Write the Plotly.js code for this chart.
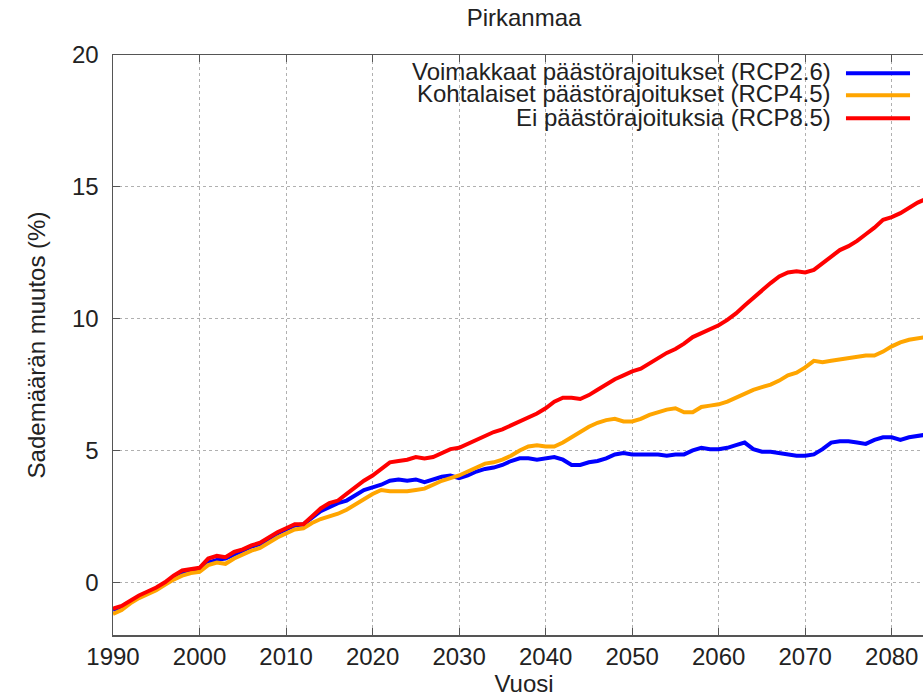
<!DOCTYPE html>
<html>
<head>
<meta charset="utf-8">
<script src="https://cdn.plot.ly/plotly-3.0.1.min.js"></script>
<style>
html,body{margin:0;padding:0;overflow:hidden;background:#fff;}
#chart{width:960px;height:697px;}
</style>
</head>
<body>
<div id="chart"></div>
<script>
const years = [];
for (let y = 1990; y <= 2085; y++) years.push(y);

const seriesNames = [
  "Voimakkaat päästörajoitukset (RCP2.6)",
  "Kohtalaiset päästörajoitukset (RCP4.5)",
  "Ei päästörajoituksia (RCP8.5)"
];
const seriesColors = ["#0000ff", "#ffa500", "#ff0000"];

const rcp26 = [
  -1.05,-0.95,-0.75,-0.55,-0.4,-0.25,-0.05,0.15,0.35,0.45,
  0.5,0.75,0.85,0.9,1.05,1.2,1.35,1.45,1.65,1.85,
  2.0,2.15,2.2,2.45,2.7,2.85,3.0,3.1,3.3,3.5,
  3.6,3.7,3.85,3.9,3.85,3.9,3.8,3.9,4.0,4.05,
  3.95,4.05,4.2,4.3,4.35,4.45,4.6,4.7,4.7,4.65,
  4.7,4.75,4.65,4.45,4.45,4.55,4.6,4.7,4.85,4.9,
  4.85,4.85,4.85,4.85,4.8,4.85,4.85,5.0,5.1,5.05,
  5.05,5.1,5.2,5.3,5.05,4.95,4.95,4.9,4.85,4.8,
  4.8,4.85,5.05,5.3,5.35,5.35,5.3,5.25,5.4,5.5,
  5.5,5.4,5.5,5.55,5.6,5.65
];
const rcp45 = [
  -1.2,-1.05,-0.8,-0.6,-0.45,-0.3,-0.1,0.1,0.25,0.35,
  0.4,0.65,0.75,0.7,0.9,1.05,1.2,1.3,1.5,1.7,
  1.85,2.0,2.05,2.25,2.4,2.5,2.6,2.75,2.95,3.15,
  3.35,3.5,3.45,3.45,3.45,3.5,3.55,3.7,3.85,3.95,
  4.05,4.2,4.35,4.5,4.55,4.65,4.8,5.0,5.15,5.2,
  5.15,5.15,5.3,5.5,5.7,5.9,6.05,6.15,6.2,6.1,
  6.1,6.2,6.35,6.45,6.55,6.6,6.45,6.45,6.65,6.7,
  6.75,6.85,7.0,7.15,7.3,7.4,7.5,7.65,7.85,7.95,
  8.15,8.4,8.35,8.4,8.45,8.5,8.55,8.6,8.6,8.75,
  8.95,9.1,9.2,9.25,9.3,9.35
];
const rcp85 = [
  -1.0,-0.9,-0.7,-0.5,-0.35,-0.2,0.0,0.25,0.45,0.5,
  0.55,0.9,1.0,0.95,1.15,1.25,1.4,1.5,1.7,1.9,
  2.05,2.2,2.2,2.5,2.8,3.0,3.1,3.35,3.6,3.85,
  4.05,4.3,4.55,4.6,4.65,4.75,4.7,4.75,4.9,5.05,
  5.1,5.25,5.4,5.55,5.7,5.8,5.95,6.1,6.25,6.4,
  6.6,6.85,7.0,7.0,6.95,7.1,7.3,7.5,7.7,7.85,
  8.0,8.1,8.3,8.5,8.7,8.85,9.05,9.3,9.45,9.6,
  9.75,9.95,10.2,10.5,10.8,11.1,11.35,11.6,11.75,11.8,
  11.75,11.85,12.1,12.35,12.6,12.75,12.95,13.2,13.45,13.75,
  13.85,14.0,14.2,14.4,14.55,14.75
];
const seriesValues = [rcp26, rcp45, rcp85];

const xTicks = [1990,2000,2010,2020,2030,2040,2050,2060,2070,2080];
const yTicks = [0,5,10,15,20];

const titleText = "Pirkanmaa";
const xTitle = "Vuosi";
const yTitle = "Sademäärän muutos (%)";

const FONT = "Liberation Sans, Arial, sans-serif";
const TXT = "#222";

const traces = seriesValues.map((vals, i) => ({
  x: years, y: vals, type: "scatter", mode: "lines",
  name: seriesNames[i], showlegend: false,
  line: {color: seriesColors[i], width: 4},
  hoverinfo: "skip"
}));

// gnuplot-style key: text right-aligned, then sample line
const keyRowsY = [0.9707, 0.9328, 0.8931];
const annotations = seriesNames.map((n, i) => ({
  xref: "paper", yref: "paper", x: 0.8759, y: keyRowsY[i],
  xanchor: "right", yanchor: "middle", text: n, showarrow: false,
  font: {family: FONT, size: 24, color: TXT}
}));
const shapes = seriesColors.map((c, i) => ({
  type: "line", xref: "paper", yref: "paper",
  x0: 0.8917, x1: 0.9696, y0: keyRowsY[i] - 0.002, y1: keyRowsY[i] - 0.002,
  line: {color: c, width: 4}
}));

const axisCommon = {
  showline: true, linecolor: "#555", linewidth: 1.5, mirror: "ticks",
  ticks: "inside", ticklen: 7, tickcolor: "#555", tickwidth: 1,
  showgrid: true, gridcolor: "#b0b0b0", griddash: "dot", gridwidth: 1,
  zeroline: false,
  tickfont: {family: FONT, size: 24, color: TXT}
};

const layout = {
  width: 960, height: 697,
  margin: {l: 113, r: 25, t: 55, b: 62},
  paper_bgcolor: "#fff", plot_bgcolor: "#fff",
  title: {text: titleText, font: {family: FONT, size: 24, color: TXT},
          x: 0.5, xref: "paper", y: 1 - 18/697, yref: "container", yanchor: "middle"},
  xaxis: Object.assign({}, axisCommon, {
    range: [1990, 2085], tickvals: xTicks, ticktext: xTicks.map(String),
    title: {text: xTitle, font: {family: FONT, size: 24, color: TXT}, standoff: 8}
  }),
  yaxis: Object.assign({}, axisCommon, {
    range: [-2, 20], tickvals: yTicks, ticktext: yTicks.map(String),
    ticklabelstandoff: 8,
    title: {text: yTitle, font: {family: FONT, size: 24, color: TXT}, standoff: 19}
  }),
  annotations: annotations,
  shapes: shapes,
  showlegend: false
};

Plotly.newPlot("chart", traces, layout, {displayModeBar: false, staticPlot: true});
</script>
</body>
</html>
